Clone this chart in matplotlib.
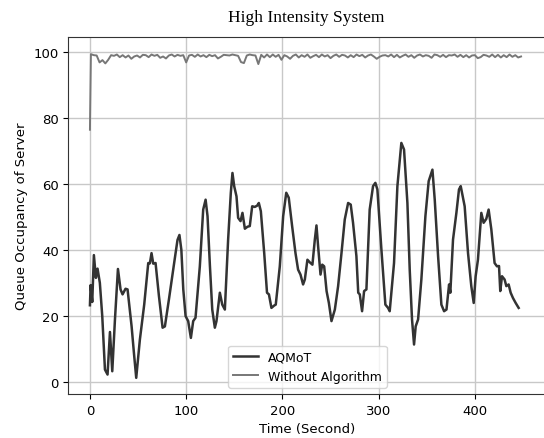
import matplotlib
matplotlib.use('Agg')
import matplotlib.pyplot as plt

# AQMoT queue occupancy (time in s, occupancy)
aqmot_t = [0, 0.7, 2.4, 4.1, 6.2, 7.9, 10.3, 12.8, 15.6, 18.3, 20.8, 23.2, 26, 29.1, 31.8, 33.9,
           37, 39.1, 43.3, 45.7, 48.1, 51.9, 56.4, 60.6, 62.3, 64, 65.8, 68.2, 71.7, 75.5, 77.9,
           82.1, 85.5, 88.5, 91, 93, 95, 97, 99.4, 102.1, 104.9, 107.3, 109.7, 114.2, 117.7,
           120.2, 122.2, 124.7, 127.1, 129.8, 131.5, 135, 137.5, 140.2, 143.6, 146.4, 148.1,
           149.9, 152.3, 154, 156.5, 158.5, 161, 163.7, 166.1, 168.6, 171.3, 173.8, 175.5, 177.6,
           181.1, 184, 186, 188.6, 191.4, 193.1, 197.3, 200.8, 204, 206.6, 210.1, 213.6, 216.3,
           218.8, 221.5, 223.3, 226, 228.5, 231.2, 233.7, 235.4, 237.1, 239.6, 241.4, 243.4,
           245.9, 248.3, 251, 254.5, 257.9, 261.4, 264.8, 268.3, 271, 273.4, 276.9, 278.8, 280.4,
           282.8, 284.9, 287.3, 290.7, 294.2, 296.6, 298.7, 302.9, 307, 309.8, 311.5, 316, 319.5,
           323.6, 326.4, 329.9, 332.3, 334.7, 336.8, 338.5, 341, 344.4, 348.6, 352, 355.9, 358.3,
           361.8, 365.2, 368, 370.5, 373.2, 374.5, 377.3, 380.8, 383.5, 385.3, 387.7, 389.4,
           392.9, 396.3, 398.8, 400.8, 403.2, 406.7, 409.1, 411.9, 414.3, 417.1, 420.5, 423,
           425.1, 426.4, 428.2, 430.9, 432.7, 435.1, 437.2, 439.6, 442.4, 445.5]
aqmot_q = [23.2, 29.3, 24.2, 38.4, 31.5, 34.3, 30, 19.9, 3.7, 2.2, 15.1, 3.2, 18.9, 34.2, 28, 26.5,
           28.2, 28, 16.8, 8.8, 1.2, 12.8, 23.4, 36, 35.9, 39, 35.8, 36, 26, 16.4, 16.8,
           25, 32, 38, 43, 44.5, 40, 28, 19.9, 18.4, 13.3, 18.4, 19.4, 35, 52.2,
           55.2, 50.2, 35, 21.9, 16.4, 18.4, 27, 23.4, 21.9, 43.1, 57.3, 63.3,
           59.3, 56.2, 49.7, 48.7, 51.2, 46.4, 47, 47.2, 53.2, 53, 53.4, 54.2, 51.7,
           39, 27, 26.5, 22.4, 23.1, 23.4, 35, 50.2, 57.3, 55.8, 47.2, 39, 34,
           32.5, 29.5, 31, 37, 36.2, 35.5, 43.1, 47.4, 41.1, 32.5, 35.5, 35,
           27.5, 23.9, 18.4, 21.9, 29, 39, 49.2, 54.2, 53.7, 48.2, 38.1, 27, 26.5,
           21.4, 27.5, 28, 52.2, 59.3, 60.3, 58.3, 40, 23.4, 22.4, 21.4, 36, 59.3,
           72.4, 70.4, 54.2, 34, 18.9, 11.3, 16.8, 18.9, 31, 50.2, 60.8, 64.3, 55.2,
           38, 23.4, 21.4, 21.9, 29.5, 27, 43.1, 51.2, 58.3, 59.3, 55.8, 53.2,
           39, 29, 23.9, 32, 37, 51.2, 48.2, 49.4, 52.2, 46.2, 36, 35,
           35.1, 27.5, 32, 31, 29, 29.5, 27, 25.4, 23.9, 22.4]

# Without algorithm: first sample then every 3 s
gray_t = [0] + list(range(1, 449, 3))
gray_q = [76.4,
          99.3, 99.0, 98.9, 96.8, 97.5, 96.5, 97.6, 99.0, 98.8, 99.2,
          98.4, 99.0, 98.3, 98.9, 97.9, 98.6, 98.9, 98.3, 99.1, 99.0,
          98.4, 99.2, 98.8, 99.1, 98.2, 98.6, 98.0, 98.9, 99.2, 98.6,
          99.1, 98.8, 99.0, 96.8, 98.9, 99.1, 98.5, 99.2, 98.6, 99.0,
          98.4, 99.1, 98.7, 99.0, 98.0, 98.5, 99.1, 99.0, 98.9, 99.2,
          99.0, 98.8, 96.9, 96.6, 98.9, 99.2, 99.0, 98.9, 96.3, 99.1,
          98.3, 99.2, 98.4, 99.2, 98.5, 99.1, 97.6, 99.0, 98.6, 97.9,
          98.8, 99.2, 98.3, 99.0, 98.5, 99.2, 98.2, 98.7, 99.1, 98.4,
          99.2, 98.6, 99.0, 98.1, 98.8, 99.2, 98.5, 99.1, 98.9, 98.3,
          99.0, 98.4, 99.2, 98.7, 99.1, 98.3, 98.9, 99.2, 98.6, 97.9,
          98.5, 98.9, 99.0, 98.6, 99.2, 98.4, 99.1, 98.3, 98.8, 99.2,
          98.5, 99.0, 98.2, 98.9, 99.2, 98.6, 99.0, 98.8, 98.2, 99.2,
          99.0, 98.5, 99.1, 98.4, 99.0, 98.9, 99.2, 98.5, 99.1, 98.4,
          99.0, 98.3, 98.9, 99.0, 98.1, 98.4, 99.1, 98.9, 98.5, 99.2,
          98.4, 99.1, 98.3, 99.0, 98.4, 99.2, 98.5, 99.0, 98.3, 98.6]

plt.rcParams['font.size'] = 9.5

fig = plt.figure(figsize=(5.44, 4.39), dpi=100)
# right edge of the frame is cropped off in the reference
ax = fig.add_axes([0.1257, 0.1002, 0.879, 0.8132])

ax.plot(aqmot_t, aqmot_q, color='#333333', linewidth=1.8, label='AQMoT')
ax.plot(gray_t, gray_q, color='#777777', linewidth=1.4, label='Without Algorithm')

ax.set_xlim(-22.4, 474.5)
ax.set_ylim(-3.7, 104.5)
ax.set_xticks([0, 100, 200, 300, 400])
ax.set_yticks([0, 20, 40, 60, 80, 100])
ax.grid(True, color='#c8c8c8', linewidth=1.0)
ax.set_axisbelow(True)
for s in ax.spines.values():
    s.set_color('#333333')
ax.spines['right'].set_visible(False)

ax.set_xlabel('Time (Second)')
ax.set_ylabel('Queue Occupancy of Server')
ax.legend(loc='lower center', fontsize=9)

fig.text(0.562, 0.959, 'High Intensity System', family='Liberation Serif',
         fontsize=12.5, ha='center', va='center')

fig.savefig('out.png', dpi=100)
